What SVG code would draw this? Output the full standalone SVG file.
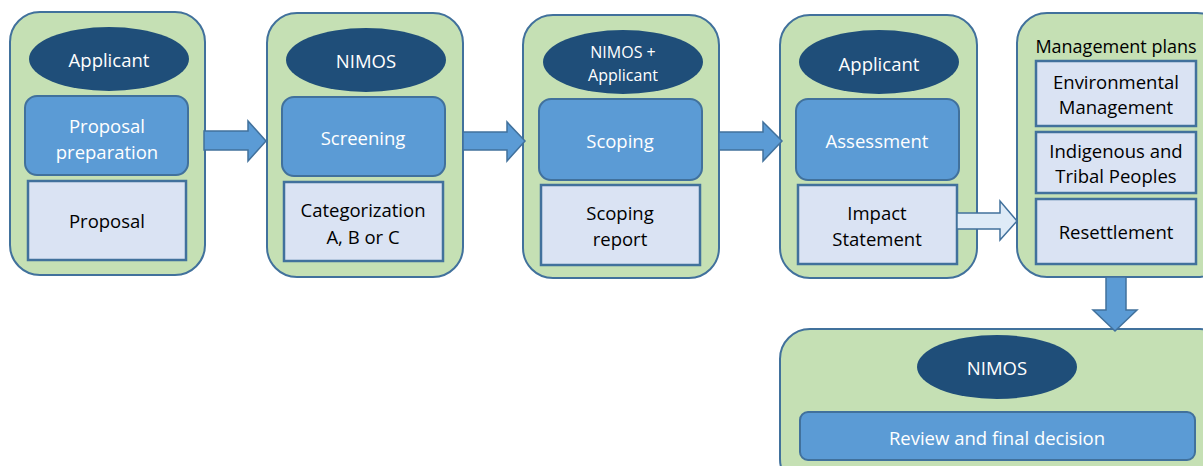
<svg xmlns="http://www.w3.org/2000/svg" width="1203" height="466" viewBox="0 0 1203 466">
<style>
.outer{fill:#C5E0B4;stroke:#41719C;stroke-width:2}
.who{fill:#1F4E79}
.step{fill:#5B9BD5;stroke:#41719C;stroke-width:2}
.doc{fill:#DAE3F3;stroke:#41719C;stroke-width:2.5}
.arr{fill:#5B9BD5;stroke:#41719C;stroke-width:1.5}
.arrl{fill:#DEEBF7;stroke:#41719C;stroke-width:1.5}
text{font-family:"Open Sans","Noto Sans","Liberation Sans",sans-serif;font-size:18.5px;text-anchor:middle;dominant-baseline:central}
.w{fill:#FFFFFF}
.b{fill:#000000}
.sm{font-size:16px}
</style>
<rect width="1203" height="466" fill="#FFFFFF"/>
<g id="node-proposal">
<rect class="outer" x="10" y="12" width="195" height="263" rx="30"/>
<ellipse class="who" cx="109" cy="59" rx="80" ry="32"/>
<text class="w" x="109" y="59">Applicant</text>
<rect class="step" x="25" y="96" width="163" height="79" rx="12"/>
<text class="w" x="107" y="125">Proposal</text>
<text class="w" x="107" y="151">preparation</text>
<rect class="doc" x="28" y="181" width="158" height="79"/>
<text class="b" x="107" y="220">Proposal</text>
</g>
<g id="node-screening">
<rect class="outer" x="267" y="13" width="196" height="264" rx="30"/>
<ellipse class="who" cx="366" cy="60" rx="80" ry="32"/>
<text class="w" x="366" y="60">NIMOS</text>
<rect class="step" x="282" y="97" width="163" height="79" rx="12"/>
<text class="w" x="363" y="137">Screening</text>
<rect class="doc" x="284" y="182" width="159" height="79"/>
<text class="b" x="363" y="209">Categorization</text>
<text class="b" x="363" y="236">A, B or C</text>
</g>
<g id="node-scoping">
<rect class="outer" x="523" y="15" width="196" height="263" rx="30"/>
<ellipse class="who" cx="623" cy="62" rx="80" ry="32"/>
<text class="w sm" x="623" y="52">NIMOS +</text>
<text class="w sm" x="623" y="75">Applicant</text>
<rect class="step" x="539" y="99" width="163" height="81" rx="12"/>
<text class="w" x="620" y="140">Scoping</text>
<rect class="doc" x="541" y="185" width="159" height="80"/>
<text class="b" x="620" y="212">Scoping</text>
<text class="b" x="620" y="238">report</text>
</g>
<g id="node-assessment">
<rect class="outer" x="780" y="15" width="197" height="263" rx="30"/>
<ellipse class="who" cx="879" cy="62" rx="80" ry="32"/>
<text class="w" x="879" y="63">Applicant</text>
<rect class="step" x="796" y="99" width="163" height="81" rx="12"/>
<text class="w" x="877" y="140">Assessment</text>
<rect class="doc" x="798" y="185" width="159" height="79"/>
<text class="b" x="877" y="212">Impact</text>
<text class="b" x="877" y="238">Statement</text>
</g>
<g id="node-management">
<rect class="outer" x="1017" y="13" width="210" height="264" rx="30"/>
<text class="b" x="1116" y="46" style="font-size:18px">Management plans</text>
<rect class="doc" x="1036" y="61" width="160" height="65"/>
<text class="b" x="1116" y="81">Environmental</text>
<text class="b" x="1116" y="106">Management</text>
<rect class="doc" x="1036" y="132" width="160" height="61"/>
<text class="b" x="1116" y="150">Indigenous and</text>
<text class="b" x="1116" y="175">Tribal Peoples</text>
<rect class="doc" x="1036" y="199" width="160" height="65"/>
<text class="b" x="1116" y="231">Resettlement</text>
</g>
<g id="node-review">
<rect class="outer" x="780" y="329" width="450" height="160" rx="30"/>
<ellipse class="who" cx="997" cy="367" rx="80" ry="32"/>
<text class="w" x="997" y="367">NIMOS</text>
<rect class="step" x="800" y="412" width="395" height="48" rx="8"/>
<text class="w" x="997" y="437">Review and final decision</text>
</g>
<g id="connectors">
<polygon class="arr" points="204,131 248,131 248,121 266,141 248,161 248,150 204,150"/>
<polygon class="arr" points="463,132 507,132 507,122 525,141 507,161 507,150 463,150"/>
<polygon class="arr" points="719,132 763,132 763,122 782,141 763,161 763,150 719,150"/>
<polygon class="arrl" points="957,213 1000,213 1000,201 1017,221 1000,240 1000,229 957,229"/>
<polygon class="arr" points="1106,277 1126,277 1126,310 1137,310 1115,331 1093,310 1106,310"/>
</g>
</svg>
